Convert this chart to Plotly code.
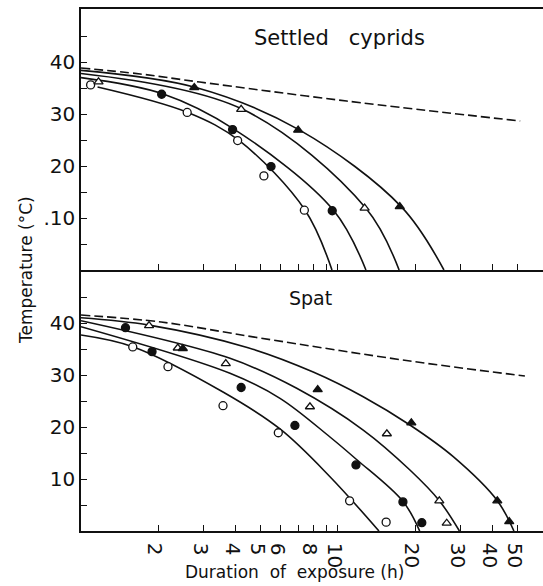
import plotly.graph_objects as go

# ---------------- DATA ----------------
# Top panel: Settled cyprids  (duration h, temperature C)
top_dash_d = [1.0, 1.70, 2.90, 10.8, 51.2]
top_dash_t = [38.85, 37.7, 36.15, 32.5, 28.65]

top_ftri_line_d = [1.0, 2.80, 7.10, 17.7, 25.85]
top_ftri_line_t = [38.4, 35.1, 26.9, 12.1, 0.0]

top_otri_line_d = [1.0, 4.26, 12.85, 17.3]
top_otri_line_t = [37.8, 30.9, 11.87, 0.0]

top_fcir_line_d = [1.0, 2.09, 3.95, 9.59, 12.85]
top_fcir_line_t = [37.0, 33.85, 27.06, 11.54, 0.0]

top_ocir_line_d = [1.16, 2.62, 4.13, 7.44, 9.48]
top_ocir_line_t = [35.2, 30.25, 24.87, 11.54, 0.0]

top_ocir_d = [1.09, 2.59, 4.07, 5.15, 7.4]
top_ocir_t = [35.6, 30.3, 24.9, 18.1, 11.5]
top_fcir_d = [2.06, 3.89, 5.49, 9.5]
top_fcir_t = [33.8, 27.0, 19.9, 11.4]
top_otri_d = [1.17, 4.2, 12.7]
top_otri_t = [36.2, 30.9, 11.9]
top_ftri_d = [2.76, 7.0, 17.4]
top_ftri_t = [35.1, 26.9, 12.2]

# Bottom panel: Spat
bot_dash_d = [1.0, 2.05, 4.97, 19.06, 53.4]
bot_dash_t = [41.54, 40.19, 37.12, 32.69, 29.81]

bot_ftri_line_d = [1.0, 1.84, 4.47, 8.01, 12.54, 19.06, 28.1, 41.7, 48.4]
bot_ftri_line_t = [41.02, 39.6, 35.25, 30.58, 25.83, 20.38, 14.29, 5.83, 0.0]

bot_otri_line_d = [1.0, 3.80, 6.91, 12.54, 19.06, 24.8, 29.7]
bot_otri_line_t = [40.44, 33.21, 27.44, 19.42, 11.73, 5.83, 0.0]

bot_fcir_line_d = [1.0, 3.80, 5.95, 9.31, 11.75, 17.95, 20.8]
bot_fcir_line_t = [39.29, 30.33, 25.52, 18.08, 13.85, 5.63, 0.0]

bot_ocir_line_d = [1.0, 1.59, 3.57, 5.95, 9.31, 14.44]
bot_ocir_line_t = [37.69, 35.44, 26.73, 19.62, 10.44, 0.0]

bot_ocir_d = [1.59, 2.18, 3.57, 5.86, 11.1, 15.4]
bot_ocir_t = [35.4, 31.6, 24.1, 18.9, 5.8, 1.7]
bot_fcir_d = [1.49, 1.89, 4.2, 6.8, 11.75, 17.9, 21.2]
bot_fcir_t = [39.1, 34.5, 27.6, 20.3, 12.7, 5.6, 1.6]
bot_otri_d = [1.84, 2.38, 3.66, 7.78, 15.5, 24.8, 26.5]
bot_otri_t = [39.5, 35.2, 32.2, 23.9, 18.7, 5.8, 1.5]
bot_ftri_d = [2.49, 8.34, 19.3, 41.7, 46.4]
bot_ftri_t = [35.1, 27.2, 20.8, 5.8, 1.8]

x_tickvals = [2, 3, 4, 5, 6, 7, 8, 9, 10, 20, 30, 40, 50]
x_ticktext = ["2", "3", "4", "5", "6", "", "8", "", "10", "20", "30", "40", "50"]
y_tickvals = [5, 10, 15, 20, 25, 30, 35, 40, 45]
top_y_ticktext = ["", ".10", "", "20", "", "30", "", "40", ""]
bot_y_ticktext = ["", "10", "", "20", "", "30", "", "40", ""]

# ---------------- FIGURE ----------------
INK = "#111111"
FONT = "DejaVu Sans"
fig = go.Figure()


def line(d, t, xa, ya, dash="solid"):
    fig.add_trace(go.Scatter(x=d, y=t, mode="lines", xaxis=xa, yaxis=ya,
                             line=dict(color=INK, width=1.6, dash=dash, shape="spline", smoothing=1.0),
                             hoverinfo="skip", showlegend=False))


def marks(d, t, xa, ya, symbol, filled):
    fig.add_trace(go.Scatter(x=d, y=t, mode="markers", xaxis=xa, yaxis=ya,
                             marker=dict(symbol=symbol, size=8,
                                         color=INK if filled else "white",
                                         line=dict(color=INK, width=1.3)),
                             showlegend=False))


for xa, ya, P in [("x2", "y2", "top"), ("x", "y", "bot")]:
    g = globals()
    line(g[P + "_dash_d"], g[P + "_dash_t"], xa, ya, dash="9px,4px")
    for name in ["ftri", "otri", "fcir", "ocir"]:
        line(g[P + "_" + name + "_line_d"], g[P + "_" + name + "_line_t"], xa, ya)
    marks(g[P + "_ocir_d"], g[P + "_ocir_t"], xa, ya, "circle", False)
    marks(g[P + "_fcir_d"], g[P + "_fcir_t"], xa, ya, "circle", True)
    marks(g[P + "_otri_d"], g[P + "_otri_t"], xa, ya, "triangle-up", False)
    marks(g[P + "_ftri_d"], g[P + "_ftri_t"], xa, ya, "triangle-up", True)

xcommon = dict(type="log", range=[0, 1.798], showline=True, linecolor=INK, linewidth=1.6,
               ticks="inside", ticklen=6, tickwidth=1.2, tickcolor=INK, showgrid=False,
               zeroline=False, tickvals=x_tickvals, ticktext=x_ticktext,
               tickfont=dict(family=FONT, size=20, color=INK))
ycommon = dict(range=[0, 50.2], showline=True, linecolor=INK, linewidth=1.6,
               ticks="inside", ticklen=6, tickwidth=1.2, tickcolor=INK, showgrid=False,
               zeroline=False, tickvals=y_tickvals,
               tickfont=dict(family=FONT, size=20, color=INK))

fig.update_layout(
    width=543, height=586,
    margin=dict(l=81, r=0, t=9, b=55),
    paper_bgcolor="white", plot_bgcolor="white",
    showlegend=False,
    xaxis=dict(xcommon, anchor="y", ticklabelstandoff=-4),
    xaxis2=dict(xcommon, anchor="y2", matches="x", showticklabels=False, mirror=True),
    yaxis=dict(ycommon, domain=[0, 0.5], anchor="x", ticktext=bot_y_ticktext),
    yaxis2=dict(ycommon, domain=[0.5, 1], anchor="x2", ticktext=top_y_ticktext),
    annotations=[
        dict(text="Settled&nbsp;&nbsp;&nbsp;cyprids", xref="paper", yref="paper", x=0.5606, y=0.944,
             showarrow=False, xanchor="center", yanchor="middle",
             font=dict(family=FONT, size=21, color=INK)),
        dict(text="Spat", xref="paper", yref="paper", x=0.4978, y=0.446,
             showarrow=False, xanchor="center", yanchor="middle",
             font=dict(family=FONT, size=19, color=INK)),
        dict(text="Temperature (°C)", xref="paper", yref="paper", x=-0.119, y=0.5,
             showarrow=False, xanchor="center", yanchor="middle", textangle=-90,
             font=dict(family=FONT, size=17, color=INK)),
        dict(text="Duration&nbsp;&nbsp;of&nbsp;&nbsp;exposure (h)", xref="paper", yref="paper",
             x=0.4632, y=-0.0785,
             showarrow=False, xanchor="center", yanchor="middle",
             font=dict(family=FONT, size=17, color=INK)),
    ],
)

fig.write_html("out.html")
